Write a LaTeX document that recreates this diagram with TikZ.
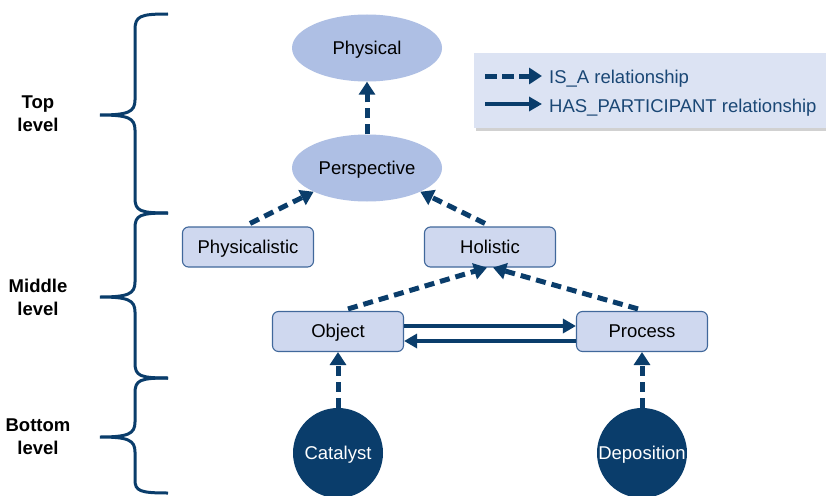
\documentclass[tikz,border=0pt]{standalone}
\usepackage{fontspec}
\setmainfont{Liberation Sans}
\usetikzlibrary{arrows.meta,shapes.geometric}
\definecolor{navy}{HTML}{0A3D6B}
\definecolor{ellfill}{HTML}{AEBFE4}
\definecolor{boxfill}{HTML}{CFD8EF}
\definecolor{boxline}{HTML}{41689B}
\definecolor{legfill}{HTML}{DCE3F3}
\definecolor{legtext}{HTML}{1A4775}
\begin{document}
\begin{tikzpicture}[x=1pt,y=-1pt,
  every node/.style={font=\fontsize{18.5}{22}\selectfont},
  label text/.style={text height=12.5pt,text depth=0pt},
  concept/.style={ellipse,fill=ellfill,minimum width=150pt,minimum height=67pt,inner sep=0pt,label text},
  classbox/.style={rectangle,rounded corners=6pt,draw=boxline,line width=1.1pt,fill=boxfill,
    minimum width=131pt,minimum height=40pt,inner sep=0pt,label text},
  instance/.style={circle,fill=navy,text=white,minimum size=90pt,inner sep=0pt,label text},
  isa/.style={draw=navy,line width=5pt,dash pattern=on 10pt off 6pt,
    -{Triangle[length=13pt,width=16pt]}},
  hasp/.style={draw=navy,line width=4.5pt,-{Triangle[length=13pt,width=14pt]}},
  brace/.style={draw=navy,line width=3pt},
  level/.style={font=\bfseries\fontsize{18.5}{23}\selectfont,align=center}]
\useasboundingbox (0,0) rectangle (826,495);
\fill[white] (0,0) rectangle (826,495);

% level braces
\draw[brace] (168,14) .. controls (140,14) and (135,16) .. (135,30) -- (135,100)
  .. controls (135,112) and (128,115) .. (100,115)
  .. controls (128,115) and (135,118) .. (135,130) -- (135,198)
  .. controls (135,211) and (140,213) .. (168,213);
\draw[brace] (168,213) .. controls (140,213) and (135,215) .. (135,228) -- (135,282)
  .. controls (135,294) and (128,297) .. (100,297)
  .. controls (128,297) and (135,300) .. (135,312) -- (135,363)
  .. controls (135,376) and (140,378) .. (168,378);
\draw[brace] (168,378) .. controls (140,378) and (135,380) .. (135,393) -- (135,422)
  .. controls (135,434) and (128,437) .. (100,437)
  .. controls (128,437) and (135,440) .. (135,452) -- (135,480)
  .. controls (135,491) and (140,493) .. (168,493);

\node[level] (ltop) at (38,114) {Top\\level};
\node[level] (lmid) at (38,297) {Middle\\level};
\node[level] (lbot) at (38,437) {Bottom\\level};

% legend
\fill[black!18] (476,56) rectangle (828,131);
\fill[legfill] (474,53) rectangle (826,128);
\coordinate (la1) at (485,76);
\coordinate (lb1) at (542,76);
\coordinate (la2) at (485,104);
\coordinate (lb2) at (542,104);
\draw[isa,dash pattern=on 12pt off 5pt] (la1) -- (lb1);
\draw[hasp] (la2) -- (lb2);
\node[anchor=base west,text=legtext,inner sep=0pt] (lt1) at (549,83) {IS\_A relationship};
\node[anchor=base west,text=legtext,inner sep=0pt] (lt2) at (549,112) {HAS\_PARTICIPANT relationship};

% concepts
\node[concept] (phys) at (367,48) {Physical};
\node[concept] (persp) at (367,168) {Perspective};
\node[classbox] (physic) at (248,247) {Physicalistic};
\node[classbox] (hol) at (490,247) {Holistic};
\node[classbox] (obj) at (338,331.5) {Object};
\node[classbox] (proc) at (642,331.5) {Process};
\node[instance] (cat) at (338,453) {Catalyst};
\node[instance] (dep) at (642,453) {Deposition};

% IS_A relations
\draw[isa] (persp.north) -- (phys.south);
\draw[isa] ([xshift=2pt,yshift=3pt]physic.north) -- (persp.204);
\draw[isa] ([xshift=-5pt,yshift=3pt]hol.north) -- (persp.336);
\draw[isa] ([xshift=10pt,yshift=2pt]obj.north) -- ([xshift=-3pt]hol.south);
\draw[isa] ([xshift=-4pt,yshift=2pt]proc.north) -- ([xshift=3pt]hol.south);
\draw[isa] (cat.north) -- (obj.south);
\draw[isa] (dep.north) -- (proc.south);

% HAS_PARTICIPANT relations
\draw[hasp] ([yshift=5.5pt]obj.east) -- ([yshift=5.5pt]proc.west);
\draw[hasp] ([yshift=-9.5pt]proc.west) -- ([yshift=-9.5pt]obj.east);
\end{tikzpicture}
\end{document}
